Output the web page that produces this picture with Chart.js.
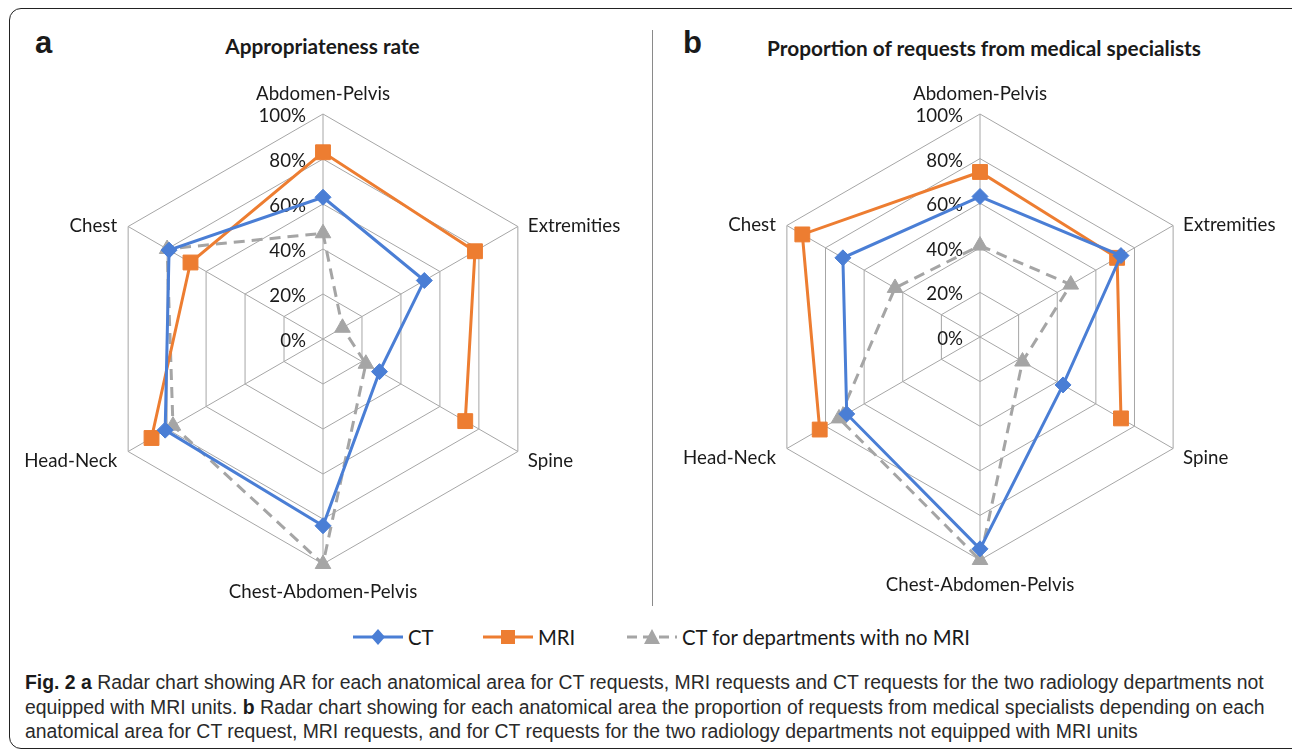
<!DOCTYPE html>
<html>
<head>
<meta charset="utf-8">
<script src="https://cdn.jsdelivr.net/npm/chart.js@4.4.1/dist/chart.umd.min.js"></script>
<style>
  html, body { margin: 0; padding: 0; background: #fff; }
  body { width: 1292px; height: 753px; position: relative; overflow: hidden; font-family: Lato, "Open Sans", sans-serif; color: #1a1a1a; }
  .frame { position: absolute; left: 9px; top: 8px; width: 1300px; height: 741px; border: 1.5px solid #222; border-radius: 12px; box-sizing: border-box; }
  .divider { position: absolute; left: 652px; top: 30px; width: 1px; height: 576px; background: #8a8a8a; }
  .panel-letter { position: absolute; font-family: "Liberation Sans", Arial, sans-serif; font-weight: bold; font-size: 31px; line-height: 31px; }
  .ptitle { position: absolute; text-align: center; font-weight: bold; font-size: 20.8px; line-height: 24px; }
  canvas { position: absolute; }
  .leg { position: absolute; top: 626px; height: 22px; display: flex; align-items: center; font-size: 20.3px; white-space: nowrap; }
  .leg svg { margin-right: 4px; }
  .caption { position: absolute; left: 25px; top: 670px; font-family: "Liberation Sans", Arial, sans-serif; font-size: 19.4px; line-height: 24.5px; color: #2a2a2a; white-space: nowrap; }
  .caption b { color: #1a1a1a; }
</style>
</head>
<body>
<div class="frame"></div>
<div class="divider"></div>
<div class="panel-letter" style="left:35px; top:27px;">a</div>
<div class="panel-letter" style="left:683px; top:27px;">b</div>
<div class="ptitle" id="titleA" style="left:0px; width:645px; top:34px;"></div>
<div class="ptitle" id="titleB" style="left:678px; width:612px; top:36px;"></div>
<canvas id="chartA" width="635" height="540" style="left:10px; top:70px;"></canvas>
<canvas id="chartB" width="630" height="540" style="left:660px; top:70px;"></canvas>

<div class="leg" style="left:352px;"><svg width="52" height="20"><line x1="1" y1="10" x2="51" y2="10" stroke="#4A7ED5" stroke-width="3"/><polygon points="26,2 33,10 26,18 19,10" fill="#4A7ED5"/></svg><span id="leg0"></span></div>
<div class="leg" style="left:482px;"><svg width="52" height="20"><line x1="1" y1="10" x2="51" y2="10" stroke="#ED7D31" stroke-width="3"/><rect x="19" y="3" width="14" height="14" fill="#ED7D31"/></svg><span id="leg1"></span></div>
<div class="leg" style="left:626px;"><svg width="52" height="20"><line x1="1" y1="10" x2="51" y2="10" stroke="#A5A5A5" stroke-width="3" stroke-dasharray="10,6"/><polygon points="26,2 34,17 18,17" fill="#A5A5A5"/></svg><span id="leg2"></span></div>

<div class="caption"><b>Fig. 2 a</b> Radar chart showing AR for each anatomical area for CT requests, MRI requests and CT requests for the two radiology departments not<br>equipped with MRI units. <b>b</b> Radar chart showing for each anatomical area the proportion of requests from medical specialists depending on each<br>anatomical area for CT request, MRI requests, and for CT requests for the two radiology departments not equipped with MRI units</div>

<script>
// ---- data ----
const categories = ["Abdomen-Pelvis", "Extremities", "Spine", "Chest-Abdomen-Pelvis", "Head-Neck", "Chest"];
const seriesNames = ["CT", "MRI", "CT for departments with no MRI"];
const tickValues = [0, 20, 40, 60, 80, 100];
const titleA = "Appropriateness rate";
const titleB = "Proportion of requests from medical specialists";

// Panel a: appropriateness rate (%)
const ctA = [63, 52, 29, 83, 81, 79];
const mriA = [83, 78, 73, null, 88, 68];
const ctNoMriA = [47, 10, 22, 100, 77, 80];

// Panel b: proportion of requests from medical specialists (%)
const ctB = [63, 73, 43, 95, 69, 71];
const mriB = [74, 71, 73, null, 83, 92];
const ctNoMriB = [41, 47, 22, 100, 73, 44];

// ---- setup ----
document.getElementById('titleA').textContent = titleA;
document.getElementById('titleB').textContent = titleB;
seriesNames.forEach((n, i) => document.getElementById('leg' + i).textContent = n);

const BLUE = '#4A7ED5', ORANGE = '#ED7D31', GRAY = '#A5A5A5';
const LABEL_FONT = '18.7px Lato';

function makeDatasets(ct, mri, noMri) {
  return [
    { label: seriesNames[2], data: noMri, borderColor: GRAY, backgroundColor: GRAY, borderWidth: 3, borderDash: [11, 7],
      pointStyle: 'triangle', pointRadius: 9, pointBorderWidth: 1, pointBorderColor: GRAY, pointBackgroundColor: GRAY, fill: false, clip: false, order: 3 },
    { label: seriesNames[1], data: mri, borderColor: ORANGE, backgroundColor: ORANGE, borderWidth: 3,
      pointStyle: 'rect', pointRadius: 10.5, pointBorderWidth: 1, pointBorderColor: ORANGE, pointBackgroundColor: ORANGE, fill: false, clip: false, spanGaps: false, order: 2 },
    { label: seriesNames[0], data: ct, borderColor: BLUE, backgroundColor: BLUE, borderWidth: 3,
      pointStyle: 'rectRot', pointRadius: 8, pointBorderWidth: 1, pointBorderColor: BLUE, pointBackgroundColor: BLUE, fill: false, clip: false, order: 1 }
  ];
}

const labelPlugin = {
  id: 'radarLabels',
  beforeDatasetsDraw(chart) {
    const s = chart.scales.r, ctx = chart.ctx;
    ctx.save();
    ctx.font = LABEL_FONT;
    ctx.fillStyle = '#1a1a1a';
    ctx.textAlign = 'right';
    ctx.textBaseline = 'middle';
    tickValues.forEach(v => {
      const y = s.yCenter - s.getDistanceFromCenterForValue(v);
      ctx.fillText(v + '%', s.xCenter - 17, y + 2);
    });
    ctx.restore();
  },
  afterDraw(chart, args, opts) {
    const s = chart.scales.r, ctx = chart.ctx;
    ctx.save();
    ctx.font = LABEL_FONT;
    ctx.fillStyle = '#1a1a1a';
    ctx.textBaseline = 'middle';
    const off = opts.offsets;
    categories.forEach((c, i) => {
      const p = s.getPointPosition(i, s.drawingArea);
      const o = off[i];
      ctx.textAlign = o[2];
      ctx.fillText(c, p.x + o[0], p.y + o[1]);
    });
    ctx.restore();
  }
};

function makeChart(id, ds, pad, bottomOff) {
  return new Chart(document.getElementById(id), {
    type: 'radar',
    data: { labels: categories, datasets: ds },
    plugins: [labelPlugin],
    options: {
      responsive: false,
      devicePixelRatio: 1,
      animation: false,
      layout: { padding: pad },
      elements: { line: { tension: 0 } },
      plugins: {
        legend: { display: false },
        title: { display: false },
        tooltip: { enabled: false },
        radarLabels: {
          offsets: [
            [0, -20, 'center'],
            [10, -1, 'left'],
            [10, 9, 'left'],
            [0, bottomOff, 'center'],
            [-11, 9, 'right'],
            [-11, -1, 'right']
          ]
        }
      },
      scales: {
        r: {
          min: 0, max: 100,
          ticks: { stepSize: 20, display: false },
          grid: { color: '#A6A6A6', lineWidth: 1 },
          angleLines: { color: '#A6A6A6', lineWidth: 1 },
          pointLabels: { display: false }
        }
      }
    }
  });
}

makeChart('chartA', makeDatasets(ctA, mriA, ctNoMriA), { left: 88, right: 97, top: 44, bottom: 46 }, 28);
makeChart('chartB', makeDatasets(ctB, mriB, ctNoMriB), { left: 97, right: 87, top: 44, bottom: 50 }, 25);
</script>
</body>
</html>
